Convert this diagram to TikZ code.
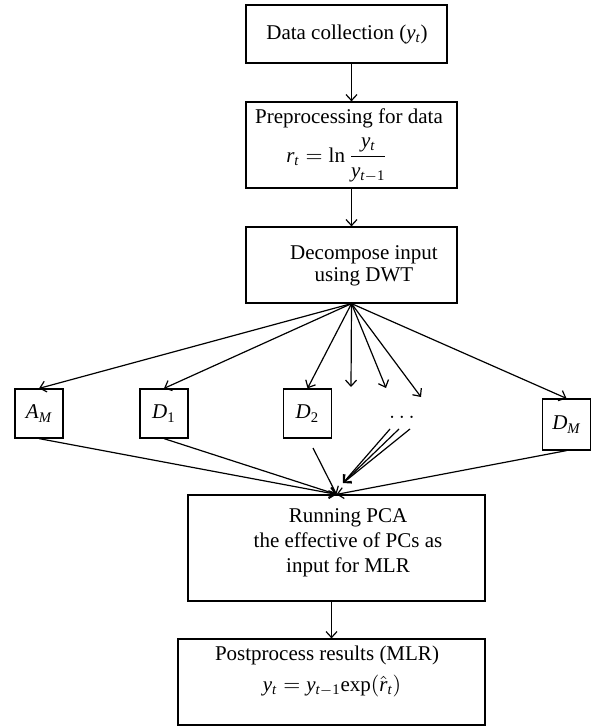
\documentclass[tikz,border=0pt]{standalone}
\usepackage{mathspec}
\setmainfont{Liberation Serif}
\setmathsfont(Digits,Latin){Liberation Serif}
\setmathrm{Liberation Serif}
\usetikzlibrary{arrows.meta,positioning,calc}

\tikzset{
  box/.style={rectangle, draw, inner sep=0pt},
  comp/.style={box, minimum width=24pt, minimum height=24.5pt}
}

\begin{document}
\begin{tikzpicture}[x=0.5pt, y=-0.5pt, line width=0.6pt,
    >={Straight Barb[length=3pt,width=5.5pt]},
    font=\fontsize{10.5}{12.5}\selectfont]
\useasboundingbox (0,0) rectangle (593,727);

% Data collection
\node[box, minimum width=100.5pt, minimum height=29pt] (collect) at (346.5,34) {};
\node (collecttxt) at (347,34) {Data collection ($y_t$)};

% Preprocessing
\node[box, minimum width=105.5pt, minimum height=43pt] (prep) at (351.5,145) {};
\node (preptxt) at (349,118) {Preprocessing for data};
\node (prepeq) at (337,160) {$r_t = \ln\displaystyle\frac{y_t}{y_{t-1}}$};

% Decompose with DWT
\node[box, minimum width=105.5pt, minimum height=38pt] (dwt) at (351.5,265) {};
\node[align=center, font=\fontsize{10.5}{11}\selectfont] (dwttxt) at (364,266) {Decompose input\\using DWT};

% Components
\node[comp] (am) at (39,413.5) {$A_M$};
\node[comp] (d1) at (164,413.5) {$D_1$};
\node[comp] (d2) at (307.5,413.5) {$D_2$};
\node (dots) at (402,417) {$\ldots$};
\node[comp, minimum height=25.5pt] (dm) at (566.5,424.5) {$D_M$};
\coordinate (f1) at (351,387);
\coordinate (f2) at (386,388);
\coordinate (f3) at (421,397);

% PCA
\node[box, minimum width=148.5pt, minimum height=53pt] (pca) at (336.5,548) {};
\node[align=center] (pcatxt) at (348,543) {Running PCA\\the effective of PCs as\\input for MLR};

% Postprocess
\node[box, minimum width=153.5pt, minimum height=43pt] (post) at (331.5,682) {};
\node (posttxt) at (327,655) {Postprocess results (MLR)};
\node (posteq) at (332,686) {$y_t = y_{t-1}\mathrm{exp}(\hat{r}_t)$};

% connectors
\draw[->] (prep.north |- collect.south) -- (prep.north);
\draw[->] (prep.south) -- (dwt.north);
\foreach \t in {am,d1,d2,dm} \draw[->] (dwt.south) -- (\t.north);
\foreach \t in {f1,f2,f3} \draw[->] (dwt.south) -- (\t);
\foreach \s in {am,d1,dm} \draw[->] (\s.south) -- (pca.north);
\coordinate (d2low) at (313,448);
\draw[->] (d2low) -- (pca.north);
\coordinate (dend) at (343,483);
\foreach \i/\x in {1/390,2/399,3/410} {
  \coordinate (s\i) at (\x,429);
  \draw[->] (s\i) -- (dend);
}
\draw[->] (post.north |- pca.south) -- (post.north);
\end{tikzpicture}
\end{document}
